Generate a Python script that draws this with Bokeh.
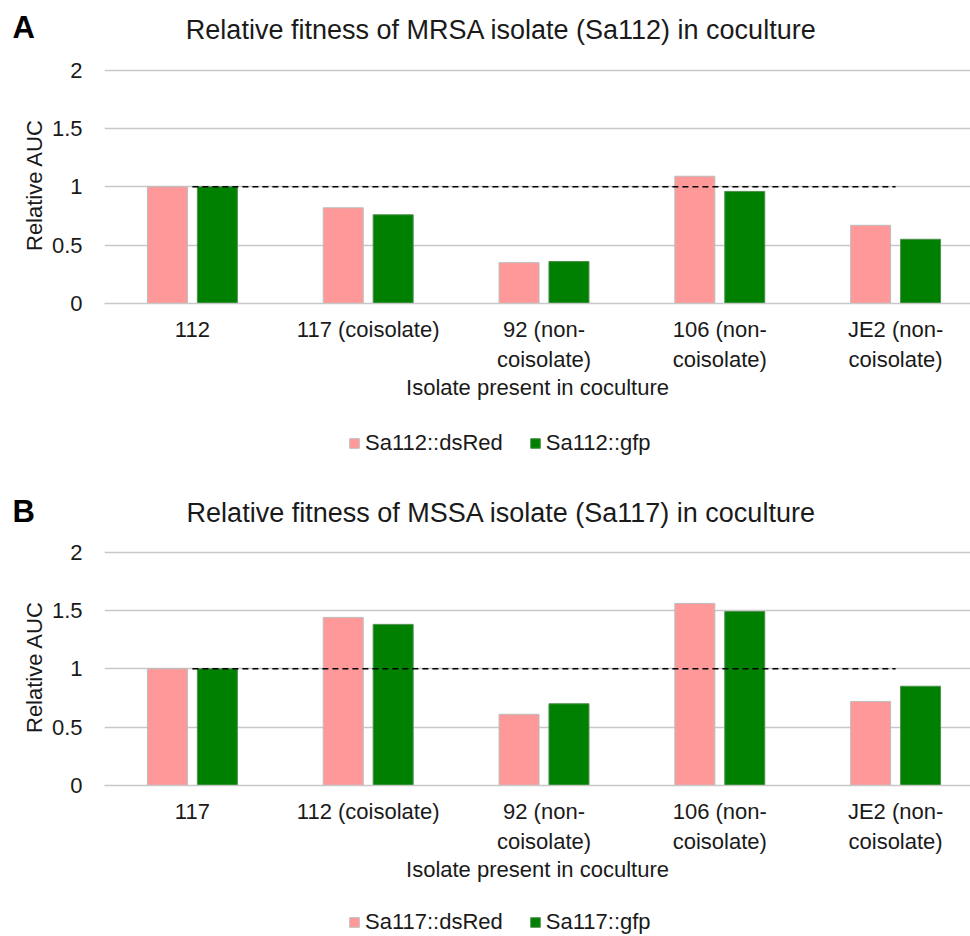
from bokeh.plotting import figure
from bokeh.layouts import column, row
from bokeh.models import Range1d, FixedTicker, Label, Legend, LegendItem, ColumnDataSource
from bokeh.embed import file_html
from bokeh.resources import INLINE

FONT = "Liberation Sans"
TEXT = "#1A1A1A"
PINK = "#FF9999"
GREEN = "#008000"
GRID = "#C8C8C8"
PINK_EDGE = "#BDBDBD"
GREEN_EDGE = "#4F8F4F"

# ---- data ----
cats_a = ["112", "117 (coisolate)", "92 (non-\ncoisolate)", "106 (non-\ncoisolate)", "JE2 (non-\ncoisolate)"]
dsred_a = [1.00, 0.82, 0.35, 1.09, 0.67]
gfp_a = [1.00, 0.76, 0.36, 0.96, 0.55]

cats_b = ["117", "112 (coisolate)", "92 (non-\ncoisolate)", "106 (non-\ncoisolate)", "JE2 (non-\ncoisolate)"]
dsred_b = [1.00, 1.44, 0.61, 1.56, 0.72]
gfp_b = [1.00, 1.38, 0.70, 1.49, 0.85]

y_ticks = [0, 0.5, 1, 1.5, 2]
y_tick_labels = ["0", "0.5", "1", "1.5", "2"]
reference_level = 1.0

W = 970
FRAME_H = 237
LEFT = 104
FRAME_W = W - LEFT


def bare(height, left):
    h = figure(width=W, height=height, output_backend="svg", toolbar_location=None,
               x_range=Range1d(0, W - left), y_range=Range1d(0, height),
               min_border_left=left, min_border_right=0, min_border_top=0, min_border_bottom=0)
    h.axis.visible = False
    h.grid.grid_line_color = None
    h.outline_line_color = None
    return h


def make_header(letter, title, height, letter_y, title_y):
    h = bare(height, 0)
    h.add_layout(Label(x=12, y=height - letter_y, x_units="screen", y_units="screen",
                       text=letter, text_align="left", text_baseline="middle",
                       text_font=FONT, text_font_size="31px", text_font_style="bold",
                       text_color="black"))
    h.add_layout(Label(x=501, y=height - title_y, x_units="screen", y_units="screen",
                       text=title, text_align="center", text_baseline="middle",
                       text_font=FONT, text_font_size="27px", text_color=TEXT))
    return row(h)


def make_footer(src, red_name, green_name, height, vy):
    f = bare(height, LEFT)
    f.y_range = Range1d(10, 11)  # bars stay out of view; only their legend swatches show
    r1 = f.vbar(x="xr", top="red", width=0.2275, source=src, fill_color=PINK,
                line_color=PINK_EDGE)
    r2 = f.vbar(x="xg", top="green", width=0.2275, source=src, fill_color=GREEN,
                line_color=GREEN_EDGE)
    legend = Legend(items=[LegendItem(label=red_name, renderers=[r1]),
                           LegendItem(label=green_name, renderers=[r2])],
                    location=(348 - LEFT, vy), orientation="horizontal",
                    label_text_font=FONT, label_text_font_size="22px", label_text_color=TEXT,
                    glyph_width=12, glyph_height=12, label_standoff=5, spacing=26,
                    padding=0, margin=0, border_line_color=None,
                    background_fill_alpha=0)
    f.add_layout(legend)
    return f


def make_panel(cats, red, green, height, top):
    n = len(cats)
    idx = list(range(n))
    src = ColumnDataSource(dict(
        xr=[i - 0.142 for i in idx], xg=[i + 0.142 for i in idx], red=red, green=green))
    x_end = -0.5 + FRAME_W / 175.8
    p = figure(width=W, height=height, output_backend="svg", toolbar_location=None,
               x_range=Range1d(-0.5, x_end), y_range=Range1d(0, 2.03),
               min_border_left=LEFT, min_border_right=0, min_border_top=top,
               min_border_bottom=height - top - FRAME_H)
    p.outline_line_color = None

    p.vbar(x="xr", top="red", width=0.2275, source=src, fill_color=PINK,
           line_color=PINK_EDGE, line_width=1)
    p.vbar(x="xg", top="green", width=0.2275, source=src, fill_color=GREEN,
           line_color=GREEN_EDGE, line_width=1)

    ref_x = [idx[0], idx[-1]]
    ref_y = [reference_level, reference_level]
    p.line(ref_x, ref_y, line_color="black", line_width=1.7, line_dash="6 4")

    xa = p.xaxis[0]
    xa.ticker = FixedTicker(ticks=idx)
    xa.major_label_overrides = {i: c for i, c in zip(idx, cats)}
    xa.major_label_text_font = FONT
    xa.major_label_text_font_size = "22px"
    xa.major_label_text_color = TEXT
    xa.major_label_standoff = 7
    xa.major_tick_line_color = None
    xa.minor_tick_line_color = None
    xa.axis_line_color = GRID
    xa.axis_line_width = 1.5
    xa.axis_label = "Isolate present in coculture"
    xa.axis_label_text_font = FONT
    xa.axis_label_text_font_size = "22px"
    xa.axis_label_text_font_style = "normal"
    xa.axis_label_text_color = TEXT
    xa.axis_label_standoff = 0

    ya = p.yaxis[0]
    ya.ticker = FixedTicker(ticks=y_ticks)
    ya.major_label_overrides = {t: l for t, l in zip(y_ticks, y_tick_labels)}
    ya.major_label_text_font = FONT
    ya.major_label_text_font_size = "22px"
    ya.major_label_text_color = TEXT
    ya.major_label_standoff = 16
    ya.major_tick_line_color = None
    ya.minor_tick_line_color = None
    ya.axis_line_color = None
    ya.axis_label = "Relative AUC"
    ya.axis_label_text_font = FONT
    ya.axis_label_text_font_size = "22px"
    ya.axis_label_text_font_style = "normal"
    ya.axis_label_text_color = TEXT
    ya.axis_label_standoff = 2

    p.xgrid.grid_line_color = None
    p.ygrid.grid_line_color = GRID
    p.ygrid.grid_line_width = 1.5
    p.ygrid.ticker = FixedTicker(ticks=y_ticks)
    return p, src


ha = make_header("A", "Relative fitness of MRSA isolate (Sa112) in coculture", 50, 27, 29)
pa, src_a = make_panel(cats_a, dsred_a, gfp_a, 363, 16)
fa = make_footer(src_a, "Sa112::dsRed", "Sa112::gfp", 57, 14)
hb = make_header("B", "Relative fitness of MSSA isolate (Sa117) in coculture", 60, 41, 42)
pb, src_b = make_panel(cats_b, dsred_b, gfp_b, 365, 18)
fb = make_footer(src_b, "Sa117::dsRed", "Sa117::gfp", 41, 1)

layout = column(ha, pa, fa, hb, pb, fb, spacing=0)
open("out.html", "w").write(file_html(layout, INLINE))
